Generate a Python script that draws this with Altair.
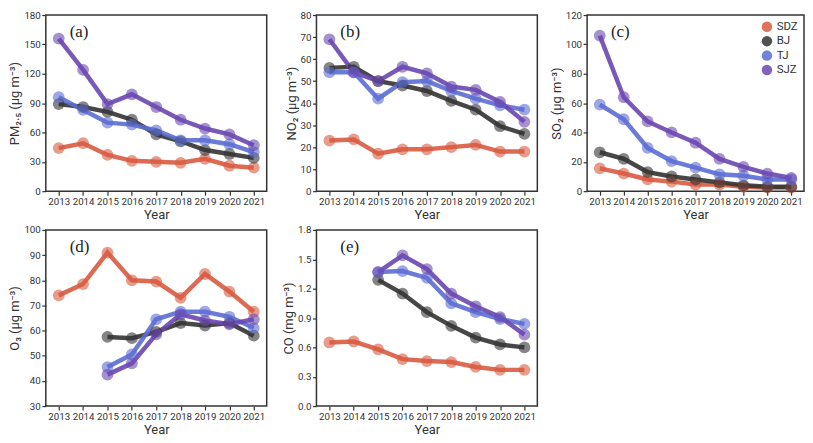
import altair as alt
import pandas as pd

years = [2013, 2014, 2015, 2016, 2017, 2018, 2019, 2020, 2021]
cities = ["SDZ", "BJ", "TJ", "SJZ"]
colors = ["#d95a40", "#333333", "#5b6dd3", "#6a47b0"]

pm25_sdz = [44, 49, 37, 31, 30, 29, 33, 26, 24]
pm25_bj = [89, 86, 81, 73, 58, 51, 42, 38, 34]
pm25_tj = [96, 83, 70, 68, 62, 52, 52, 48, 40]
pm25_sjz = [156, 124, 89, 99, 86, 73, 64, 58, 47]

no2_sdz = [23, 23.5, 17, 19, 19, 20, 21, 18, 18]
no2_bj = [56, 56.5, 50, 48, 45.5, 41, 37, 29.5, 26]
no2_tj = [54, 54, 42, 49.5, 50, 45.5, 42, 39, 37]
no2_sjz = [69, 54, 50, 56.5, 53.5, 47.5, 46, 40.5, 31.5]

so2_sdz = [15.5, 12, 8, 6.5, 4.5, 4.5, 3, 2.5, 2.5]
so2_bj = [26.5, 22, 13, 10, 8, 6, 4, 3, 3]
so2_tj = [59, 49, 29.5, 20.5, 16, 11.5, 10.5, 8, 8]
so2_sjz = [106, 64, 47.5, 40, 33, 22, 16.5, 12, 9]

o3_sdz = [74, 78.5, 91, 80, 79.5, 73, 82.5, 75.5, 67.5]
o3_bj = [None, None, 57.5, 57, 59.5, 63, 62, 63, 58]
o3_tj = [None, None, 45.5, 50.5, 64.5, 67.5, 67.5, 65.5, 61]
o3_sjz = [None, None, 42.5, 47, 58.5, 66.5, 64, 62.5, 64.5]

co_sdz = [0.65, 0.66, 0.58, 0.48, 0.46, 0.45, 0.40, 0.37, 0.37]
co_bj = [None, None, 1.29, 1.15, 0.96, 0.82, 0.70, 0.63, 0.60]
co_tj = [None, None, 1.37, 1.38, 1.31, 1.05, 0.96, 0.89, 0.84]
co_sjz = [None, None, 1.37, 1.54, 1.40, 1.15, 1.02, 0.91, 0.73]

FONT = "Roboto"
H = 177


def long_df(series):
    rows = []
    for city, vals in zip(cities, series):
        for y, v in zip(years, vals):
            if v is not None:
                rows.append({"year": y, "city": city, "value": v})
    return pd.DataFrame(rows)


def panel(series, ytitle, dmin, dmax, step, fmt, label, width, show_legend=False):
    df = long_df(series)
    n = int(round((dmax - dmin) / step))
    ticks = [round(dmin + i * step, 3) for i in range(n + 1)]
    x = alt.X("year:O", title="Year",
              scale=alt.Scale(type="point", padding=0.53),
              axis=alt.Axis(labelAngle=0))
    y = alt.Y("value:Q", title=ytitle,
              scale=alt.Scale(domain=[dmin, dmax], nice=False, zero=False),
              axis=alt.Axis(values=ticks, format=fmt))
    cscale = alt.Scale(domain=cities, range=colors)
    if show_legend:
        leg = alt.Legend(title=None, orient="top-right", offset=6,
                         symbolType="circle", symbolSize=110, symbolOpacity=0.85,
                         symbolStrokeWidth=0, labelFontSize=11.5, labelFont=FONT,
                         labelColor="#333", rowPadding=1.5)
    else:
        leg = None
    base = alt.Chart(df)
    lines = base.mark_line(strokeWidth=4.5, opacity=0.9).encode(
        x=x, y=y,
        color=alt.Color("city:N", scale=cscale, legend=leg),
        order=alt.Order("year:O"),
    )
    pts = base.mark_circle(size=140, opacity=0.6).encode(
        x=x, y=y,
        color=alt.Color("city:N", scale=cscale, legend=leg),
    )
    lab = alt.Chart(pd.DataFrame({"t": [label]})).mark_text(
        font="Liberation Serif", fontSize=17, align="left", baseline="middle",
        color="#222"
    ).encode(x=alt.value(24), y=alt.value(17), text="t:N")
    return alt.layer(lines, pts, lab).properties(width=width, height=H)


a = panel([pm25_sdz, pm25_bj, pm25_tj, pm25_sjz], "PM₂.₅ (μg m⁻³)", 0, 180, 30, "d", "(a)", 222)
b = panel([no2_sdz, no2_bj, no2_tj, no2_sjz], "NO₂ (μg m⁻³)", 0, 80, 10, "d", "(b)", 222)
c = panel([so2_sdz, so2_bj, so2_tj, so2_sjz], "SO₂ (μg m⁻³)", 0, 120, 20, "d", "(c)", 218, show_legend=True)
d = panel([o3_sdz, o3_bj, o3_tj, o3_sjz], "O₃ (μg m⁻³)", 30, 100, 10, "d", "(d)", 222)
e = panel([co_sdz, co_bj, co_tj, co_sjz], "CO (mg m⁻³)", 0, 1.8, 0.3, ".1f", "(e)", 222)

chart = alt.concat(a, b, c, d, e, columns=3, spacing={"row": 39, "column": 50},
                   bounds="flush").resolve_legend(
    color="independent").resolve_scale(color="independent").properties(
    padding={"left": 0, "top": 0, "right": 0, "bottom": 0}
).configure_view(
    stroke="#333333", strokeWidth=1.5
).configure_axis(
    grid=False, domain=False, tickColor="#333333", tickSize=4, tickWidth=1.2,
    labelFont=FONT, labelFontSize=9.8, labelColor="#333333", labelPadding=1.5,
    titleFont=FONT, titleFontSize=13, titleFontWeight="normal", titleColor="#333333",
    titlePadding=2
)

chart.save("out.html", embed_options={"renderer": "svg", "actions": False})
